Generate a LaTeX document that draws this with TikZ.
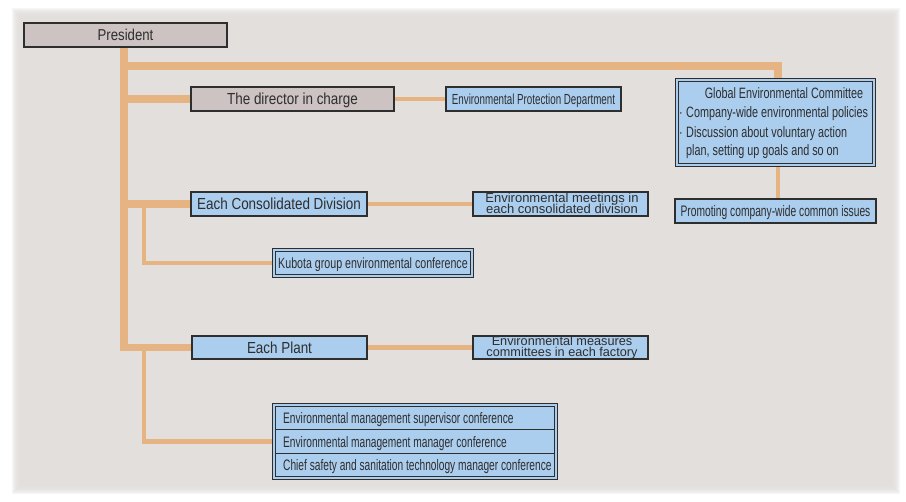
\documentclass[tikz,border=0pt]{standalone}
\usepackage{fontspec}
\setmainfont{Liberation Sans}
\newfontfamily\fcA{Liberation Sans}[FakeStretch=0.84]
\newfontfamily\fcB{Liberation Sans}[FakeStretch=0.72]
\newfontfamily\fcC{Liberation Sans}[FakeStretch=0.67]
\definecolor{panelc}{HTML}{E3DFDC}
\definecolor{orangec}{HTML}{E6B383}
\definecolor{bluec}{HTML}{ABCDEE}
\definecolor{grayc}{HTML}{CCC3C2}
\definecolor{bordc}{HTML}{2E2E2E}
\pgfdeclarelayer{panel}
\pgfdeclarelayer{lines}
\pgfsetlayers{panel,lines,main}
\tikzset{
  box/.style={draw=bordc, line width=1.1pt, inner sep=0pt, minimum height=24pt, text=bordc},
  graybox/.style={box, fill=grayc},
  bluebox/.style={box, fill=bluec},
  dbox/.style={draw=bordc, line width=0.8pt, double=bluec, double distance=2pt, fill=bluec, inner sep=0pt, text=bordc},
  fA/.style={font=\fcA\fontsize{#1pt}{#1pt}\selectfont},
  fB/.style={font=\fcB\fontsize{#1pt}{#1pt}\selectfont},
  fC/.style={font=\fcC\fontsize{#1pt}{#1pt}\selectfont},
  fW/.style={font=\fontsize{#1pt}{#1pt}\selectfont},
  txt/.style={inner sep=0pt, text=bordc},
  thickln/.style={draw=orangec, line width=7.5pt},
  thinln/.style={draw=orangec, line width=4.5pt}
}
\begin{document}
\begin{tikzpicture}[x=1pt,y=-1pt]
\useasboundingbox (0,0) rectangle (906,502);
\begin{pgfonlayer}{panel}
\fill[white] (0,0) rectangle (906,502);
\foreach \i in {0,...,7}{\fill[panelc,fill opacity=0.25] (12+\i,8+\i) rectangle (900-\i,494-\i);}
\fill[panelc] (20,16) rectangle (892,486);
\end{pgfonlayer}

% boxes
\node[graybox, fA=15.7, minimum width=203pt, text height=11.2pt, text depth=0pt] (pres) at (125.5,35) {President};
\node[graybox, fA=16, minimum width=203pt, text height=11.5pt, text depth=0pt] (dir) at (292.5,99) {The director in charge};
\node[bluebox, fC=14.6, minimum width=175pt, text height=10.5pt, text depth=0pt] (epd) at (533.5,99) {Environmental Protection Department};
\node[bluebox, fA=16, minimum width=176pt, text height=11.5pt, text depth=0pt] (ecd) at (279,204) {Each Consolidated Division};
\node[bluebox, minimum width=175pt] (emd) at (560.5,204) {};
\node[txt, fW=13, anchor=base] (emd1) at (562,202.8) {Environmental meetings in};
\node[txt, fW=13, anchor=base] (emd2) at (562,214) {each consolidated division};
\node[dbox, fB=14.8, minimum width=198.4pt, minimum height=26.4pt, text height=10.6pt, text depth=0pt] (kub) at (373,263) {Kubota group environmental conference};
\node[bluebox, fA=16, minimum width=175pt, minimum height=23pt, text height=11.5pt, text depth=0pt] (plant) at (279.5,347.5) {Each Plant};
\node[bluebox, minimum width=175pt, minimum height=23pt] (emc) at (560.5,347.5) {};
\node[txt, fW=12.7, anchor=base] (emc1) at (562,345.6) {Environmental measures};
\node[txt, fW=12.7, anchor=base] (emc2) at (562,356.9) {committees in each factory};
\node[dbox, minimum width=282.4pt, minimum height=73.4pt] (conf) at (415,441.5) {};
\node[dbox, minimum width=197.4pt, minimum height=85.4pt] (gec) at (775.5,122.5) {};
\node[bluebox, fC=15.3, minimum width=201pt, text height=11pt, text depth=0pt] (prom) at (775.5,211) {Promoting company-wide common issues};

% committee text
\node[txt, fB=15, anchor=base] (g0) at (784,99) {Global Environmental Committee};
\node[txt, fB=15, anchor=base west] (g1) at (679,118) {\makebox[7pt][l]{·}Company-wide environmental policies};
\node[txt, fB=15, anchor=base west] (g2) at (679,137.3) {\makebox[7pt][l]{·}Discussion about voluntary action};
\node[txt, fB=15, anchor=base west] (g3) at (686,156) {plan, setting up goals and so on};

% conference rows
\draw[bordc, line width=0.8pt] (275.6,429) -- (554.4,429);
\draw[bordc, line width=0.8pt] (275.6,453) -- (554.4,453);
\node[txt, fC=15.2, anchor=base west] (r1) at (283,424) {Environmental management supervisor conference};
\node[txt, fC=15.2, anchor=base west] (r2) at (283,447.3) {Environmental management manager conference};
\node[txt, fC=15.2, anchor=base west] (r3) at (283,470.7) {Chief safety and sanitation technology manager conference};

% connectors
\begin{pgfonlayer}{lines}
\coordinate (tr) at (124,47);
\coordinate (jt) at (124,66);
\coordinate (sA) at (144,204);
\coordinate (sB) at (144,347.5);
\draw[thickln] (tr) -- (tr |- plant.west) -- (plant.west);
\draw[thickln] (jt) -| ([xshift=2.5pt]gec.north);
\draw[thickln] (tr |- dir.west) -- (dir.west);
\draw[thickln] (tr |- ecd.west) -- (ecd.west);
\draw[thinln] (dir.east) -- (epd.west);
\draw[thinln] (ecd.east) -- (emd.west);
\draw[thinln] (plant.east) -- (emc.west);
\draw[thinln] ([xshift=2.5pt]gec.south) -- ([xshift=2.5pt]prom.north);
\draw[thinln] (sA) |- (kub.west);
\draw[thinln] (sB) |- (conf.west);
\end{pgfonlayer}
\end{tikzpicture}
\end{document}
